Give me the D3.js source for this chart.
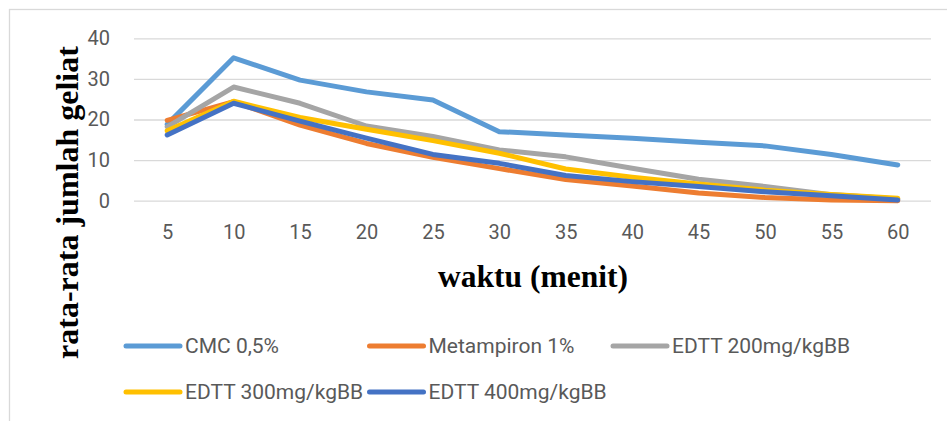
<!DOCTYPE html>
<html>
<head>
<meta charset="utf-8">
<script src="https://cdn.jsdelivr.net/npm/d3@7"></script>
<style>
  html, body { margin: 0; padding: 0; background: #fff; }
  svg { display: block; }
</style>
</head>
<body>
<div id="chart"></div>
<script>
const minutes = ["5", "10", "15", "20", "25", "30", "35", "40", "45", "50", "55", "60"];
const seriesNames = ["CMC 0,5%", "Metampiron 1%", "EDTT 200mg/kgBB", "EDTT 300mg/kgBB", "EDTT 400mg/kgBB"];
const cmc = [18.8, 35.2, 29.7, 26.8, 24.8, 17.0, 16.2, 15.4, 14.4, 13.5, 11.4, 8.8];
const metampiron = [19.8, 24.4, 18.6, 14.1, 10.7, 7.9, 5.2, 3.6, 1.9, 0.8, 0.2, 0];
const edtt200 = [18.2, 28.0, 24.0, 18.4, 15.8, 12.5, 10.8, 8.0, 5.3, 3.5, 1.5, 0.4];
const edtt300 = [17.2, 24.5, 20.5, 17.6, 14.8, 11.7, 7.8, 5.8, 4.1, 2.6, 1.5, 0.6];
const edtt400 = [16.2, 24.0, 19.6, 15.4, 11.4, 9.2, 6.2, 4.7, 3.5, 2.2, 1.2, 0.2];
const yTicks = [0, 10, 20, 30, 40];
const colors = ["#5b9bd5", "#ed7d31", "#a5a5a5", "#ffc000", "#4472c4"];

const allSeries = [cmc, metampiron, edtt200, edtt300, edtt400];

const width = 947, height = 421;
const svg = d3.select("#chart").append("svg")
  .attr("width", width)
  .attr("height", height);

// chart frame, cut off at right and bottom like the original crop
svg.append("rect")
  .attr("x", 9.5).attr("y", 9.5)
  .attr("width", 1000).attr("height", 500)
  .attr("fill", "none")
  .attr("stroke", "#d9d9d9")
  .attr("stroke-width", 1.3);

const x = d3.scalePoint().domain(minutes).range([134, 931]).padding(0.5);
const y = d3.scaleLinear().domain([0, 40]).range([200.7, 38.3]);

const tickFont = "Roboto, 'Noto Sans', sans-serif";

// gridlines + y labels
const yAxis = svg.append("g")
  .attr("transform", "translate(134,0)")
  .call(d3.axisLeft(y).tickValues(yTicks).tickSize(-797).tickPadding(24));
yAxis.select(".domain").remove();
yAxis.selectAll(".tick line").attr("stroke", "#d9d9d9").attr("stroke-width", 1.3);
yAxis.selectAll(".tick text")
  .attr("fill", "#595959")
  .style("font-family", tickFont)
  .style("font-size", "20px");

// x labels
const xAxis = svg.append("g")
  .attr("transform", "translate(0,200.7)")
  .call(d3.axisBottom(x).tickSize(0).tickPadding(24));
xAxis.select(".domain").remove();
xAxis.selectAll(".tick text")
  .attr("fill", "#595959")
  .style("font-family", tickFont)
  .style("font-size", "20px");

const line = d3.line()
  .x((d, i) => x(minutes[i]))
  .y(d => y(d));

allSeries.forEach((values, idx) => {
  svg.append("path")
    .datum(values)
    .attr("d", line)
    .attr("fill", "none")
    .attr("stroke", colors[idx])
    .attr("stroke-width", 5)
    .attr("stroke-linejoin", "round")
    .attr("stroke-linecap", "round");
});

// axis titles
svg.append("text")
  .attr("x", 533).attr("y", 287)
  .attr("text-anchor", "middle")
  .style("font-family", "'Liberation Serif', 'Times New Roman', serif")
  .style("font-weight", "bold")
  .style("font-size", "31.5px")
  .attr("fill", "#000")
  .text("waktu (menit)");

svg.append("text")
  .attr("transform", "translate(78,202.5) rotate(-90)")
  .attr("text-anchor", "middle")
  .style("font-family", "'Liberation Serif', 'Times New Roman', serif")
  .style("font-weight", "bold")
  .style("font-size", "32px")
  .attr("fill", "#000")
  .text("rata-rata jumlah geliat");

// legend, three per row
const legend = svg.append("g");
seriesNames.forEach((name, idx) => {
  const col = idx % 3, row = Math.floor(idx / 3);
  const lx = 126 + col * 243.5;
  const ly = 346 + row * 46;
  legend.append("line")
    .attr("x1", lx).attr("x2", lx + 54)
    .attr("y1", ly).attr("y2", ly)
    .attr("stroke", colors[idx])
    .attr("stroke-width", 5)
    .attr("stroke-linecap", "round");
  legend.append("text")
    .attr("x", lx + 59).attr("y", ly)
    .attr("dy", "0.35em")
    .attr("fill", "#595959")
    .style("font-family", tickFont)
    .style("font-size", "21px")
    .text(name);
});
</script>
</body>
</html>
